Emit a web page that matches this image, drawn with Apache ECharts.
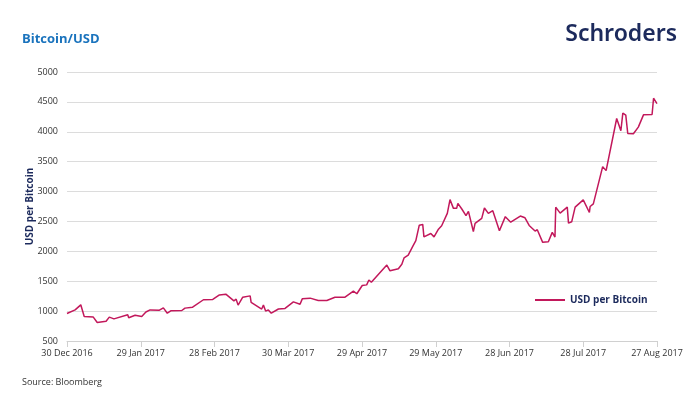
<!DOCTYPE html>
<html>
<head>
<meta charset="utf-8">
<script src="https://cdn.jsdelivr.net/npm/echarts@6/dist/echarts.min.js"></script>
<style>
  html, body { margin: 0; padding: 0; background: #fff; }
  #chart { width: 700px; height: 411px; }
</style>
</head>
<body>
<div id="chart"></div>
<script>
// 日期刻度标签 (每30天一个)
const tickLabels = ['30 Dec 2016', '29 Jan 2017', '28 Feb 2017', '30 Mar 2017', '29 Apr 2017',
  '29 May 2017', '28 Jun 2017', '28 Jul 2017', '27 Aug 2017']

// 距 30 Dec 2016 的天数
const days = [0, 3.3, 5.6, 7, 10.7, 12.3, 15.9, 17.2, 19.1, 24.7, 25.1, 27.7, 30.4, 32.1, 33.8,
  37.6, 39.2, 40.8, 42.2, 46.7, 48, 51.1, 55.5, 59.3, 62, 64.6, 67.9, 68.8, 69.6, 71.5, 74.5,
  74.9, 79.2, 79.9, 80.8, 81.9, 83.1, 86, 88.7, 92.1, 94.8, 95.7, 98.9, 102.2, 105.7, 109,
  113.1, 116.5, 117.9, 120.1, 121.9, 122.8, 123.8, 130.1, 130.9, 131.4, 134.8, 136.2, 137.1,
  138.8, 140.8, 141.9, 143.3, 144.7, 145.2, 148, 149.3, 151.1, 152.4, 154.7, 155.8, 157.2,
  158.5, 159, 160.6, 162.3, 163.3, 165.3, 166, 168.7, 169.8, 171.4, 173.2, 175.9, 178.3,
  180.5, 184.4, 186.3, 188, 190.4, 191.3, 193.5, 195.8, 197.4, 198.5, 198.8, 200.6, 203.5,
  204, 205.3, 206.7, 210, 212.5, 212.8, 214.1, 217.9, 219.3, 223.6, 225.3, 226.1, 227.3,
  228.1, 230.4, 232.4, 234.5, 238, 238.6, 240]

// USD per Bitcoin
const usd = [960, 1020, 1105, 910, 900, 810, 830, 900, 870, 940, 890, 930, 910, 985, 1020,
  1015, 1055, 965, 1005, 1010, 1050, 1065, 1190, 1195, 1270, 1283, 1172, 1200, 1100, 1233, 1255,
  1145, 1035, 1100, 1000, 1020, 965, 1035, 1045, 1155, 1115, 1205, 1217, 1178, 1178, 1233,
  1233, 1335, 1290, 1428, 1439, 1520, 1483, 1770, 1800, 1675, 1710, 1785, 1890,
  1935, 2094, 2178, 2438, 2450, 2242, 2298, 2242, 2370, 2427, 2635, 2865, 2719,
  2719, 2803, 2708, 2596, 2669, 2332, 2467, 2551, 2725, 2635, 2680, 2343, 2580,
  2487, 2590, 2561, 2433, 2339, 2361, 2150, 2161, 2317, 2239, 2739, 2639, 2739,
  2472, 2494, 2739, 2861, 2650, 2750, 2794, 3417, 3350, 4222, 4017, 4311, 4278,
  3972, 3967, 4078, 4283, 4289, 4561, 4472]

const seriesData = days.map((d, i) => [d, usd[i]])

const font = '"Open Sans", "Noto Sans", sans-serif'
const navy = '#1c2a5c'
const lineColor = '#c2185b'

const chart = echarts.init(document.getElementById('chart'))
chart.setOption({
  animation: false,
  textStyle: { fontFamily: font },
  title: [
    {
      text: 'Bitcoin/USD',
      left: 17, top: 28,
      textStyle: { color: '#1a73bd', fontSize: 13, fontWeight: 'bold', fontFamily: font }
    },
    {
      text: 'Schroders',
      right: 18, top: 18,
      textStyle: { color: navy, fontSize: 23, fontWeight: 600, fontFamily: '"Noto Sans", sans-serif' }
    },
    {
      text: 'Source: Bloomberg',
      left: 17, top: 373,
      textStyle: { color: '#333', fontSize: 9, fontWeight: 'normal', fontFamily: font }
    }
  ],
  legend: {
    data: ['USD per Bitcoin'],
    left: 530, top: 290,
    icon: 'rect',
    itemWidth: 30, itemHeight: 2,
    itemGap: 6,
    textStyle: { color: navy, fontSize: 10, fontWeight: 'bold', fontFamily: font }
  },
  grid: { left: 67, right: 43, top: 72, bottom: 70, containLabel: false },
  xAxis: {
    type: 'value',
    min: 0, max: 240, interval: 30,
    axisLine: { show: true, lineStyle: { color: '#d0d0d0' } },
    axisTick: { show: true, length: 6, lineStyle: { color: '#d0d0d0' } },
    splitLine: { show: false },
    axisLabel: {
      color: '#333', fontSize: 9, margin: 8,
      formatter: v => tickLabels[Math.round(v / 30)]
    }
  },
  yAxis: {
    type: 'value',
    min: 500, max: 5000, interval: 500,
    name: 'USD per Bitcoin',
    nameLocation: 'middle',
    nameGap: 32,
    nameMoveOverlap: false,
    nameTextStyle: { color: navy, fontSize: 10, fontWeight: 'bold' },
    axisLine: { show: false },
    axisTick: { show: false },
    splitLine: { lineStyle: { color: '#dcdcdc' } },
    axisLabel: { color: '#333', fontSize: 9, margin: 9, formatter: v => String(v) }
  },
  series: [{
    name: 'USD per Bitcoin',
    type: 'line',
    data: seriesData,
    symbol: 'none',
    lineStyle: { color: lineColor, width: 1.5 },
    itemStyle: { color: lineColor }
  }]
})
</script>
</body>
</html>
